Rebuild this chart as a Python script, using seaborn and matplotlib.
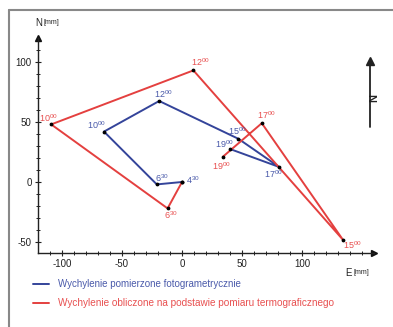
import matplotlib
matplotlib.use("Agg")
import matplotlib.pyplot as plt
import seaborn as sns
import pandas as pd
from matplotlib.ticker import MultipleLocator
from matplotlib.lines import Line2D

# ---- data ----
hours = ['4', '6', '10', '12', '15', '17', '19']
minutes = ['30', '30', '00', '00', '00', '00', '00']
blue_E = [0, -21, -65, -19, 47, 81, 40]
blue_N = [0, -2, 42, 67.5, 36, 12.5, 27.5]
red_E = [0, -12, -109, 9.5, 134, 66.5, 34]
red_N = [0, -22, 48, 93, -48, 49, 21]
legend_blue = 'Wychylenie pomierzone fotogrametrycznie'
legend_red = 'Wychylenie obliczone na podstawie pomiaru termograficznego'

BLUE = '#34449a'
RED = '#e4403f'
BLUE_T = '#4a5aaa'
RED_T = '#e85050'

sns.set_style('white')
plt.rcParams['font.family'] = ['Liberation Sans', 'DejaVu Sans']
plt.rcParams['mathtext.fontset'] = 'custom'
plt.rcParams['mathtext.rm'] = 'Liberation Sans'
plt.rcParams['axes.unicode_minus'] = False

W, H = 393, 327
fig = plt.figure(figsize=(W / 100, H / 100), dpi=100)
x0, x1, y0, y1 = 38, 374, 38, 252.8
ax = fig.add_axes([x0 / W, 1 - y1 / H, (x1 - x0) / W, (y1 - y0) / H])

df_b = pd.DataFrame({'E': blue_E, 'N': blue_N})
df_r = pd.DataFrame({'E': red_E, 'N': red_N})
sns.lineplot(data=df_b, x='E', y='N', sort=False, color=BLUE, lw=1.4, ax=ax, estimator=None)
sns.lineplot(data=df_r, x='E', y='N', sort=False, color=RED, lw=1.4, ax=ax, estimator=None)
ax.scatter(blue_E, blue_N, s=3, color='black', zorder=5)
ax.scatter(red_E, red_N, s=3, color='black', zorder=5)

ax.set_xlim(-120, 160)
ax.set_ylim(-59, 120)
ax.set_xlabel('')
ax.set_ylabel('')
for s in ['top', 'right']:
    ax.spines[s].set_visible(False)
for s in ['left', 'bottom']:
    ax.spines[s].set_color('#222222')
    ax.spines[s].set_linewidth(1.0)
ax.set_xticks([-100, -50, 0, 50, 100])
ax.set_yticks([-50, 0, 50, 100])
ax.tick_params(axis='both', which='major', direction='inout', length=5, width=0.8,
               labelsize=7, colors='#222222', pad=2)
ax.tick_params(axis='both', which='minor', direction='inout', length=3, width=0.7, colors='#222222')
ax.tick_params(axis='x', which='both', bottom=True)
ax.tick_params(axis='y', which='both', left=True)
ax.set_xticks([v for v in range(-110, 151, 10)], minor=True)
ax.set_yticks([v for v in range(-50, 111, 10)], minor=True)

# axis arrows
ax.plot(1, 0, '>', transform=ax.transAxes, clip_on=False, color='#111111', ms=4)
ax.plot(0, 1, '^', transform=ax.transAxes, clip_on=False, color='#111111', ms=4)

# time labels
b_off = [(4, 2), (5, 6), (-8, 6), (4, 7), (-1, 8), (-6, -7), (-6, 5)]
r_off = [None, (3, -7), (-3, 6), (7, 8), (10, -6), (5, 8), (-1, -9)]
for i in range(len(hours)):
    txt = r'$\mathregular{' + hours[i] + '^{' + minutes[i] + '}}$'
    dx, dy = b_off[i]
    ha = 'left' if i == 0 else 'center'
    ax.annotate(txt, (blue_E[i], blue_N[i]), xytext=(dx * 0.72, dy * 0.72),
                textcoords='offset points', ha=ha, va='center', fontsize=6.5, color=BLUE_T)
    if r_off[i] is not None:
        dx, dy = r_off[i]
        ax.annotate(txt, (red_E[i], red_N[i]), xytext=(dx * 0.72, dy * 0.72),
                    textcoords='offset points', ha='center', va='center', fontsize=6.5, color=RED_T)

# axis titles
fig.text(35 / W, 1 - 23 / H, 'N', fontsize=7, va='center', ha='left', color='#222222')
fig.text(44 / W, 1 - 23 / H, '[mm]', fontsize=5, va='center', ha='left', color='#222222')
fig.text(345 / W, 1 - 273 / H, 'E', fontsize=7, va='center', ha='left', color='#222222')
fig.text(353 / W, 1 - 273 / H, '[mm]', fontsize=5, va='center', ha='left', color='#222222')

# north arrow
fig.add_artist(Line2D([370 / W, 370 / W], [1 - 127 / H, 1 - 64 / H], color='#222222', lw=1.3))
fig.add_artist(Line2D([370 / W], [1 - 61 / H], marker='^', ms=6, color='#222222'))
fig.text(370 / W, 1 - 98 / H, 'N', rotation=-90, fontsize=8, fontweight='bold',
         ha='center', va='center', color='#222222')

# legend
fig.add_artist(Line2D([33 / W, 49 / W], [1 - 284 / H, 1 - 284 / H], color=BLUE, lw=1.4))
fig.add_artist(Line2D([33 / W, 49 / W], [1 - 303 / H, 1 - 303 / H], color=RED, lw=1.4))
fig.text(58 / W, 1 - 284 / H, legend_blue, fontsize=7, va='center', ha='left', color=BLUE_T)
fig.text(58 / W, 1 - 303 / H, legend_red, fontsize=7.2, va='center', ha='left', color=RED_T)

# frame
fig.add_artist(Line2D([9 / W, 9 / W], [0, 1 - 10 / H], color='#888888', lw=1.5))
fig.add_artist(Line2D([9 / W, 1], [1 - 10 / H, 1 - 10 / H], color='#888888', lw=1.5))

fig.savefig('out.png', dpi=100)
